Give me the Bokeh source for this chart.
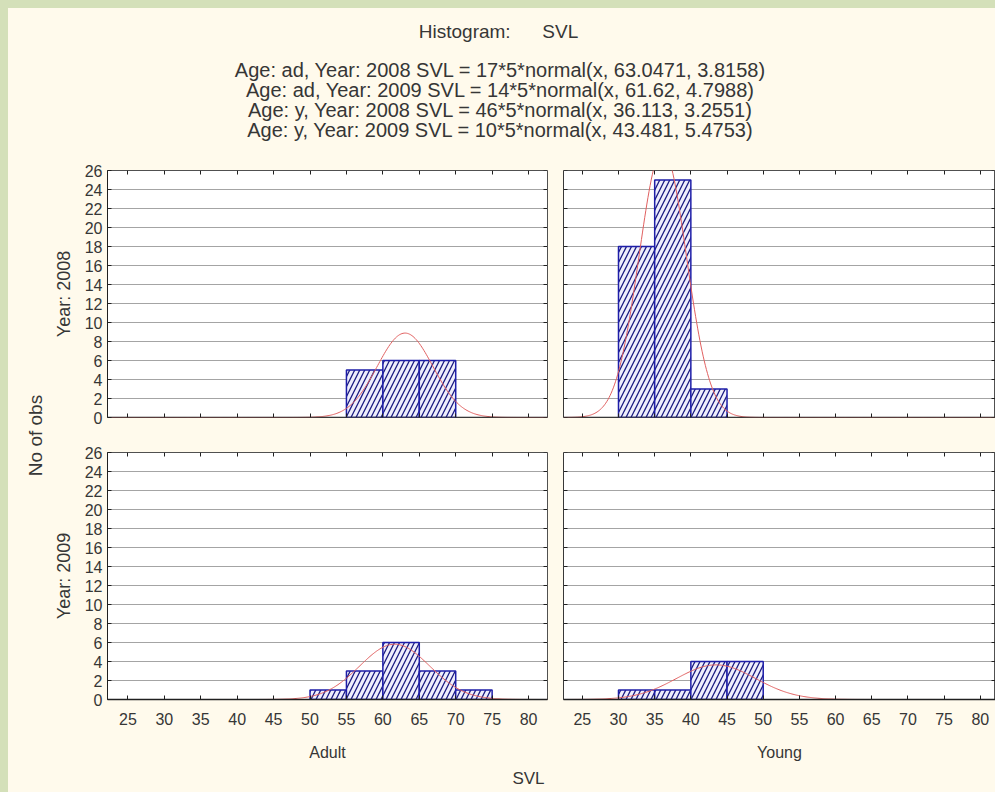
import numpy as np
from bokeh.plotting import figure
from bokeh.layouts import column, row
from bokeh.models import (Range1d, LinearAxis, FixedTicker, CustomJSTickFormatter,
                          Label, ColumnDataSource, Grid)
from bokeh.embed import file_html
from bokeh.resources import INLINE

# ---------------- data ----------------
bin_width = 5
ad2008_left = [55, 60, 65]
ad2008_count = [5, 6, 6]
y2008_left = [30, 35, 40]
y2008_count = [18, 25, 3]
ad2009_left = [50, 55, 60, 65, 70]
ad2009_count = [1, 3, 6, 3, 1]
y2009_left = [30, 35, 40, 45]
y2009_count = [1, 1, 4, 4]

# fitted normal curves (parameters as printed in the chart's own header)
fit_n = {"ad2008": 17, "ad2009": 14, "y2008": 46, "y2009": 10}
fit_mean = {"ad2008": 63.0471, "ad2009": 61.62, "y2008": 36.113, "y2009": 43.481}
fit_sd = {"ad2008": 3.8158, "ad2009": 4.7988, "y2008": 3.2551, "y2009": 5.4753}

x_ticks = [25, 30, 35, 40, 45, 50, 55, 60, 65, 70, 75, 80]
y_ticks = [0, 2, 4, 6, 8, 10, 12, 14, 16, 18, 20, 22, 24, 26]

NB = "\u00a0"
title_text = "Histogram:" + NB * 6 + "SVL"
legend_lines = [
    "Age: ad, Year: 2008 SVL = 17*5*normal(x, 63.0471, 3.8158)",
    "Age: ad, Year: 2009 SVL = 14*5*normal(x, 61.62, 4.7988)",
    "Age: y, Year: 2008 SVL = 46*5*normal(x, 36.113, 3.2551)",
    "Age: y, Year: 2009 SVL = 10*5*normal(x, 43.481, 5.4753)",
]

# ---------------- style ----------------
FONT = "Liberation Sans"
CREAM = "#fffaec"
GREEN = "#d4e0b9"
TXT = "#363636"

W_TOTAL = 987
H_HEADER = 154
STRIP_W = 42
LEFT_W, RIGHT_W = 505, 440
ROW1_H, ROW2_H = 282, 322
H_FOOTER = 26

LEFT_XR = (22.2, 82.6)
RIGHT_XR = (22.4, 82.1)

empty_fmt = CustomJSTickFormatter(code="return ''")
BG = {"background-color": CREAM}


def hidden_axis(loc, ticks):
    return LinearAxis(ticker=FixedTicker(ticks=ticks), formatter=empty_fmt,
                      fixed_location=loc, major_tick_in=4, major_tick_out=0,
                      minor_tick_in=0, minor_tick_out=0, major_label_standoff=0,
                      axis_line_color=None, major_tick_line_color="#202020")


def panel(key, lefts, counts, is_left, is_bottom, xlabel=None, ylabel=None):
    xr = LEFT_XR if is_left else RIGHT_XR
    w = LEFT_W if is_left else RIGHT_W
    h = ROW2_H if is_bottom else ROW1_H
    p = figure(width=w, height=h, x_range=Range1d(*xr), y_range=Range1d(0, 26),
               output_backend="svg", toolbar_location=None,
               x_axis_location=None, y_axis_location=None,
               min_border_left=53 if is_left else 8,
               min_border_right=8 if is_left else 0,
               min_border_top=8, min_border_bottom=67 if is_bottom else 27,
               background_fill_color="white", border_fill_color=CREAM,
               outline_line_color="#505050", outline_line_width=1)
    p.center = []
    p.add_layout(Grid(dimension=1, ticker=FixedTicker(ticks=y_ticks),
                      grid_line_color="#a4a4a4", grid_line_width=1))

    src = ColumnDataSource(dict(left=lefts, right=[l + bin_width for l in lefts],
                                top=counts))
    p.quad(left="left", right="right", top="top", bottom=0, source=src,
           fill_color="#eeeefc", line_color="#1e1ea8", line_width=1.5,
           hatch_pattern="/", hatch_color="#1a1a80", hatch_weight=1.3,
           hatch_scale=10)

    xs = np.linspace(xr[0], xr[1], 400)
    n, m, s = fit_n[key], fit_mean[key], fit_sd[key]
    ys = n * bin_width * np.exp(-0.5 * ((xs - m) / s) ** 2) / (s * np.sqrt(2 * np.pi))
    p.line(xs, ys, line_color="#e06060", line_width=1)

    # bottom axis
    if is_bottom:
        bx = LinearAxis(ticker=FixedTicker(ticks=x_ticks), axis_label=xlabel,
                        major_tick_in=4, major_tick_out=0, minor_tick_in=0,
                        minor_tick_out=0, major_label_standoff=13,
                        axis_label_standoff=16, axis_line_width=1.5,
                        axis_line_color="#202020", major_tick_line_color="#202020")
        bx.major_label_text_font = FONT
        bx.major_label_text_font_size = "16px"
        bx.major_label_text_color = TXT
        bx.axis_label_text_font = FONT
        bx.axis_label_text_font_size = "16px"
        bx.axis_label_text_font_style = "normal"
        bx.axis_label_text_color = TXT
        p.add_layout(bx, "below")
    else:
        bx = hidden_axis(0, x_ticks)
        bx.axis_line_color = "#202020"
        bx.axis_line_width = 1.5
        p.add_layout(bx, "below")

    # left axis
    if is_left:
        ly = LinearAxis(ticker=FixedTicker(ticks=y_ticks), axis_label=ylabel,
                        major_tick_in=4, major_tick_out=0, minor_tick_in=0,
                        minor_tick_out=0, major_label_standoff=5,
                        axis_label_standoff=8, axis_line_color="#202020",
                        major_tick_line_color="#202020")
        ly.major_label_text_font = FONT
        ly.major_label_text_font_size = "16px"
        ly.major_label_text_color = TXT
        ly.axis_label_text_font = FONT
        ly.axis_label_text_font_size = "18px"
        ly.axis_label_text_font_style = "normal"
        ly.axis_label_text_color = TXT
        p.add_layout(ly, "left")
    else:
        ly = hidden_axis(xr[0], y_ticks)
        ly.axis_line_color = "#202020"
        p.add_layout(ly, "left")

    p.add_layout(hidden_axis(26, x_ticks), "above")
    p.add_layout(hidden_axis(xr[1], y_ticks), "right")
    return p


tl = panel("ad2008", ad2008_left, ad2008_count, True, False, ylabel="Year: 2008")
tr = panel("y2008", y2008_left, y2008_count, False, False)
bl = panel("ad2009", ad2009_left, ad2009_count, True, True, xlabel="Adult", ylabel="Year: 2009")
br = panel("y2009", y2009_left, y2009_count, False, True, xlabel="Young")


def blank(w, h):
    f = figure(width=w, height=h, x_range=Range1d(0, 1), y_range=Range1d(0, 1),
               output_backend="svg", toolbar_location=None,
               x_axis_location=None, y_axis_location=None,
               min_border=0, background_fill_color=CREAM, border_fill_color=CREAM,
               outline_line_color=None)
    f.center = []
    return f


header = blank(W_TOTAL, H_HEADER)
header.add_layout(Label(x=490, y=131, x_units="screen", y_units="screen", text=title_text,
                        text_align="center", text_baseline="middle", text_font=FONT,
                        text_font_size="19px", text_color=TXT))
for i, t in enumerate(legend_lines):
    header.add_layout(Label(x=492, y=93 - 20 * i, x_units="screen", y_units="screen",
                            text=t, text_align="center", text_baseline="middle",
                            text_font=FONT, text_font_size="20px", text_color=TXT))

strip = blank(STRIP_W, ROW1_H + ROW2_H)
strip.add_layout(Label(x=27, y=ROW1_H + ROW2_H - 273, x_units="screen", y_units="screen",
                       text="No of obs", angle=np.pi / 2, text_align="center",
                       text_baseline="middle", text_font=FONT, text_font_size="19px",
                       text_color=TXT))

footer = blank(W_TOTAL, H_FOOTER)
footer.add_layout(Label(x=520, y=14, x_units="screen", y_units="screen", text="SVL",
                        text_align="center", text_baseline="middle", text_font=FONT,
                        text_font_size="17px", text_color=TXT))

grid = column(row(tl, tr, styles=BG), row(bl, br, styles=BG), styles=BG)
p = column(header, row(strip, grid, styles=BG), footer, styles=BG, margin=(8, 0, 0, 8))

html = file_html(p, INLINE)
html = html.replace("<body>", '<body style="background:%s">' % GREEN)
open("out.html", "w").write(html)
